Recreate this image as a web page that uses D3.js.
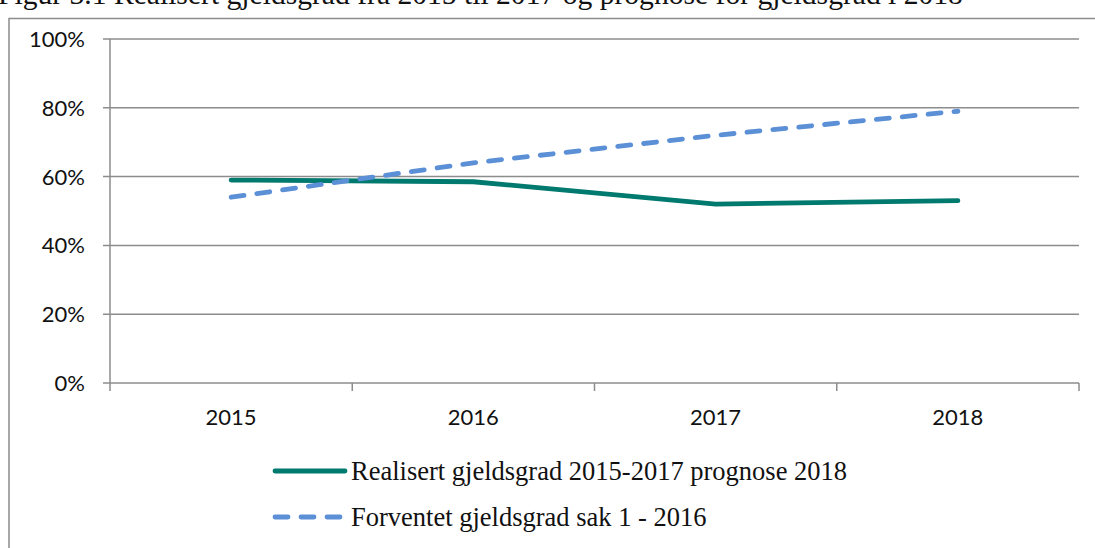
<!DOCTYPE html>
<html>
<head>
<meta charset="utf-8">
<script src="https://cdn.jsdelivr.net/npm/d3@7"></script>
<style>
  body { margin: 0; background: #fff; }
  svg { display: block; }
</style>
</head>
<body>
<div class="chart"></div>
<script>
// data
var years = ['2015', '2016', '2017', '2018']
var realisert = [0.59, 0.585, 0.52, 0.53]
var forventet = [0.54, 0.64, 0.72, 0.79]
var yTicks = [0, 0.2, 0.4, 0.6, 0.8, 1]
var seriesNames = ['Realisert gjeldsgrad 2015-2017 prognose 2018', 'Forventet gjeldsgrad sak 1 - 2016']

var width = 1095
var height = 548
var plot = { left: 110, right: 1079, top: 39, bottom: 383 }

var svg = d3.select('.chart').append('svg')
  .attr('width', width)
  .attr('height', height)

// title (cut off at top of the picture)
svg.append('text')
  .attr('x', -2)
  .attr('y', 4)
  .style('font-family', '"Liberation Serif", serif')
  .style('font-size', '29.6px')
  .style('fill', '#111')
  .text('Figur 3.1 Realisert gjeldsgrad fra 2015 til 2017 og prognose for gjeldsgrad i 2018')

// outer frame
svg.append('rect')
  .attr('x', 9).attr('y', 18.5)
  .attr('width', 1100).attr('height', 560)
  .attr('fill', 'none')
  .attr('stroke', '#8c8c8c')
  .attr('stroke-width', 1.5)

var x = d3.scaleBand().domain(years).range([plot.left, plot.right])
var y = d3.scaleLinear().domain([0, 1]).range([plot.bottom, plot.top])

// gridlines
svg.append('g').selectAll('line')
  .data(yTicks)
  .join('line')
  .attr('x1', plot.left - 7).attr('x2', plot.right)
  .attr('y1', d => y(d)).attr('y2', d => y(d))
  .attr('stroke', '#8c8c8c')
  .attr('stroke-width', 1.5)

// y axis line
svg.append('line')
  .attr('x1', plot.left).attr('x2', plot.left)
  .attr('y1', plot.top).attr('y2', plot.bottom + 8)
  .attr('stroke', '#8c8c8c').attr('stroke-width', 1.5)

// x tick marks between categories
var xTickPos = years.map(d => x(d)).concat([x.range()[1]])
svg.append('g').selectAll('line')
  .data(xTickPos.slice(1))
  .join('line')
  .attr('x1', d => d).attr('x2', d => d)
  .attr('y1', plot.bottom).attr('y2', plot.bottom + 8)
  .attr('stroke', '#8c8c8c').attr('stroke-width', 1.5)

// y labels
svg.append('g').selectAll('text')
  .data(yTicks)
  .join('text')
  .attr('x', plot.left - 25)
  .attr('y', d => y(d))
  .attr('dy', '0.36em')
  .attr('text-anchor', 'end')
  .style('font-family', 'Lato, sans-serif')
  .style('font-size', '22px')
  .style('fill', '#111')
  .text(d => Math.round(d * 100) + '%')

// x labels
svg.append('g').selectAll('text')
  .data(years)
  .join('text')
  .attr('x', d => x(d) + x.bandwidth() / 2)
  .attr('y', plot.bottom + 42)
  .attr('text-anchor', 'middle')
  .style('font-family', 'Lato, sans-serif')
  .style('font-size', '22px')
  .style('fill', '#111')
  .text(d => d)

var line = d3.line()
  .x((d, i) => x(years[i]) + x.bandwidth() / 2)
  .y(d => y(d))

svg.append('path')
  .datum(realisert)
  .attr('d', line)
  .attr('fill', 'none')
  .attr('stroke', '#00796f')
  .attr('stroke-width', 4.8)
  .attr('stroke-linecap', 'round')
  .attr('stroke-linejoin', 'round')

svg.append('path')
  .datum(forventet)
  .attr('d', line)
  .attr('fill', 'none')
  .attr('stroke', '#5b8fd6')
  .attr('stroke-width', 4.8)
  .attr('stroke-linecap', 'round')
  .attr('stroke-dasharray', '13,13')

// legend
var legend = svg.append('g')
var legendY = [471, 517]
legend.append('line')
  .attr('x1', 275).attr('x2', 345)
  .attr('y1', legendY[0]).attr('y2', legendY[0])
  .attr('stroke', '#00796f').attr('stroke-width', 4.8)
  .attr('stroke-linecap', 'round')
legend.append('line')
  .attr('x1', 275).attr('x2', 345)
  .attr('y1', legendY[1]).attr('y2', legendY[1])
  .attr('stroke', '#5b8fd6').attr('stroke-width', 4.8)
  .attr('stroke-linecap', 'round')
  .attr('stroke-dasharray', '13,13')
legend.selectAll('text')
  .data(seriesNames)
  .join('text')
  .attr('x', 351)
  .attr('y', (d, i) => legendY[i])
  .attr('dy', '0.33em')
  .style('font-family', '"Liberation Serif", serif')
  .style('font-size', '26.5px')
  .style('fill', '#111')
  .text(d => d)
</script>
</body>
</html>
